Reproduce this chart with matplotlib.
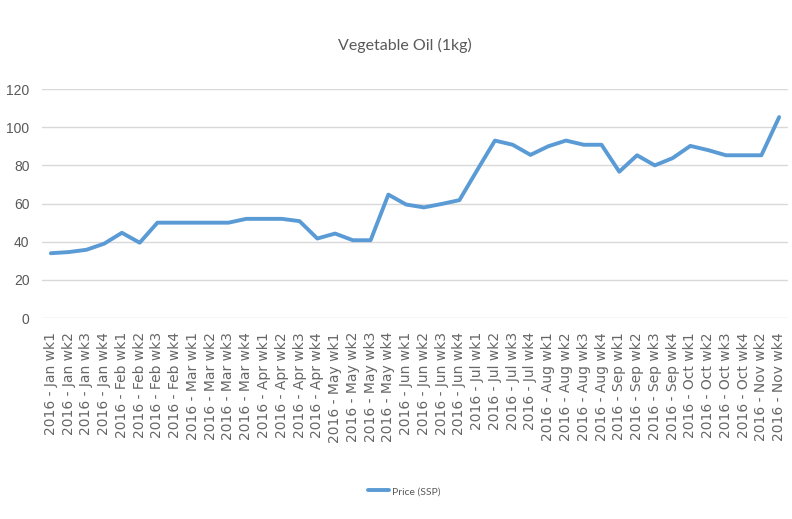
import matplotlib
matplotlib.use("Agg")
import matplotlib.pyplot as plt

months = ["Jan", "Feb", "Mar", "Apr", "May", "Jun", "Jul", "Aug", "Sep", "Oct"]
weeks = ["wk1", "wk2", "wk3", "wk4"]
categories = [f"2016 - {m} {w}" for m in months for w in weeks] + ["2016 - Nov wk2", "2016 - Nov wk4"]

price_ssp = [34, 34.6, 35.8, 39, 44.7, 39.5,
             50, 50, 50, 50, 50, 52,
             52, 52, 50.8, 41.7, 44.3, 40.8,
             40.8, 64.7, 59.5, 58, 59.8, 61.8,
             77.5, 93, 90.8, 85.5, 90, 93,
             90.8, 90.8, 76.7, 85.3, 80, 83.8,
             90.2, 88, 85.3, 85.3, 85.3, 105.3]

title = "Vegetable Oil (1kg)"
series_name = "Price (SSP)"
yticks = [0, 20, 40, 60, 80, 100, 120]

fig = plt.figure(figsize=(7.92, 5.19), dpi=100)
ax = fig.add_axes([0.053, 0.387, 0.942, 0.4415])

x = list(range(len(categories)))
line, = ax.plot(x, price_ssp, color="#5b9bd5", lw=2.8, solid_joinstyle="round",
                solid_capstyle="round", label=series_name)

ax.set_xlim(-0.5, len(categories) - 0.5)
ax.set_ylim(0, 120)
ax.set_yticks(yticks)
ax.set_yticklabels([str(v) for v in yticks], fontsize=10, color="#595959",
                   family="Liberation Sans")
ax.set_xticks(x)
ax.set_xticklabels(categories, rotation=90, fontsize=10, color="#666666",
                   family="DejaVu Sans", va="top", ha="center")
ax.tick_params(axis="both", length=0)
ax.tick_params(axis="x", pad=10)
ax.tick_params(axis="y", pad=9)
ax.grid(axis="y", color="#d9d9d9", lw=1)
ax.set_axisbelow(True)
for s in ax.spines.values():
    s.set_visible(False)

fig.text(0.511, 0.912, title, ha="center", va="center", fontsize=11.5,
         color="#595959", family="Lato")

leg = fig.legend(handles=[line], loc="center", bbox_to_anchor=(0.511, 0.053),
                 frameon=False, handlelength=2.0, handletextpad=0.3,
                 prop={"family": "Lato", "size": 7.5})
for t in leg.get_texts():
    t.set_color("#595959")

fig.savefig("out.png", dpi=100, facecolor="white")
